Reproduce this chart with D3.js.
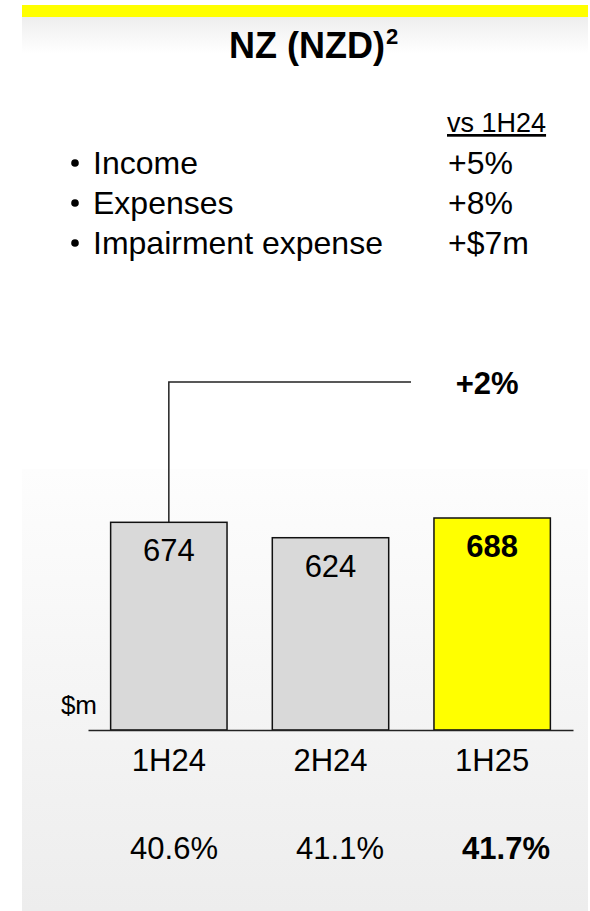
<!DOCTYPE html>
<html>
<head>
<meta charset="utf-8">
<script src="https://cdn.jsdelivr.net/npm/d3@7"></script>
<style>
  html, body { margin: 0; padding: 0; background: #ffffff; }
  svg { display: block; font-family: "Liberation Sans", Arial, sans-serif; }
</style>
</head>
<body>
<svg id="chart" width="590" height="911"></svg>
<script>
// ---- data ----
const title = "NZ (NZD)";
const titleNote = "2";
const compareHeader = "vs 1H24";
const bulletLabels = ["Income", "Expenses", "Impairment expense"];
const bulletChanges = ["+5%", "+8%", "+$7m"];
const categories = ["1H24", "2H24", "1H25"];
const values = [674, 624, 688];
const ratios = ["40.6%", "41.1%", "41.7%"];
const growthLabel = "+2%";
const unitLabel = "$m";
const highlight = "1H25";

const svg = d3.select("#chart");
const defs = svg.append("defs");

const gTop = defs.append("linearGradient").attr("id", "gTop").attr("x1", 0).attr("y1", 0).attr("x2", 0).attr("y2", 1);
gTop.append("stop").attr("offset", "0%").attr("stop-color", "#eeeeee");
gTop.append("stop").attr("offset", "100%").attr("stop-color", "#ffffff");

const gBot = defs.append("linearGradient").attr("id", "gBot").attr("x1", 0).attr("y1", 0).attr("x2", 0).attr("y2", 1);
gBot.append("stop").attr("offset", "0%").attr("stop-color", "#fdfdfd");
gBot.append("stop").attr("offset", "100%").attr("stop-color", "#ededed");

// background panels
svg.append("rect").attr("x", 22).attr("y", 17).attr("width", 566).attr("height", 36).attr("fill", "url(#gTop)");
svg.append("rect").attr("x", 22).attr("y", 469).attr("width", 566).attr("height", 442).attr("fill", "url(#gBot)");
svg.append("rect").attr("x", 22).attr("y", 5).attr("width", 566).attr("height", 12).attr("fill", "#ffff00");

// title
const t = svg.append("text").attr("x", 229).attr("y", 58)
  .attr("font-size", 36).attr("font-weight", "bold").attr("fill", "#000");
t.append("tspan").text(title);
t.append("tspan").attr("font-size", 22).attr("dy", -14).attr("dx", 1).text(titleNote);

// comparison header
svg.append("text").attr("x", 447).attr("y", 132).attr("font-size", 27)
  .attr("text-decoration", "underline").text(compareHeader);

// bullets
const rowY = d3.scalePoint().domain(bulletLabels).range([174, 254]);
const rows = svg.append("g").selectAll("g").data(bulletLabels).join("g");
rows.append("circle").attr("cx", 75).attr("cy", d => rowY(d) - 11).attr("r", 3.8).attr("fill", "#000");
rows.append("text").attr("x", 93).attr("y", d => rowY(d)).attr("font-size", 32).text(d => d);
rows.append("text").attr("x", 448).attr("y", d => rowY(d)).attr("font-size", 32)
  .text((d, i) => bulletChanges[i]);

// bar chart
const x = d3.scaleBand().domain(categories).range([88, 573]).paddingInner(0.28).paddingOuter(0.14);
const y = d3.scaleLinear().domain([0, d3.max(values)]).range([730, 518]);
const data = categories.map((c, i) => ({ c, v: values[i], r: ratios[i] }));

// growth connector
const first = data[0];
svg.append("path")
  .attr("d", `M${x(first.c) + x.bandwidth() / 2},${y(first.v)} V382 H411`)
  .attr("fill", "none").attr("stroke", "#222").attr("stroke-width", 1.5);
svg.append("text").attr("x", x(highlight) + x.bandwidth() / 2 - 5).attr("y", 394)
  .attr("text-anchor", "middle").attr("font-size", 31).attr("font-weight", "bold").text(growthLabel);

svg.append("g").selectAll("rect").data(data).join("rect")
  .attr("x", d => x(d.c)).attr("y", d => y(d.v))
  .attr("width", x.bandwidth()).attr("height", d => y(0) - y(d.v))
  .attr("fill", d => d.c === highlight ? "#ffff00" : "#d9d9d9")
  .attr("stroke", "#111").attr("stroke-width", 1.5);

svg.append("g").selectAll("text").data(data).join("text")
  .attr("x", d => x(d.c) + x.bandwidth() / 2).attr("y", d => y(d.v) + 39)
  .attr("text-anchor", "middle").attr("font-size", 31)
  .attr("font-weight", d => d.c === highlight ? "bold" : "normal")
  .text(d => d.v);

// baseline axis
const axis = svg.append("g").attr("transform", `translate(0,${y(0)})`)
  .call(d3.axisBottom(x).tickSize(0).tickPadding(12));
axis.select(".domain").attr("stroke", "#222").attr("stroke-width", 1.5);
axis.selectAll(".tick text").attr("font-size", 31).attr("font-family", "Liberation Sans, Arial, sans-serif")
  .attr("fill", "#000").attr("dy", "0").attr("y", 41);

svg.append("text").attr("x", 97).attr("y", 714).attr("text-anchor", "end").attr("font-size", 26).text(unitLabel);

// ratio row
const xr = d3.scalePoint().domain(categories).range([174, 506]);
svg.append("g").selectAll("text").data(data).join("text")
  .attr("x", d => xr(d.c)).attr("y", 859).attr("text-anchor", "middle").attr("font-size", 31)
  .attr("font-weight", d => d.c === highlight ? "bold" : "normal")
  .text(d => d.r);
</script>
</body>
</html>
